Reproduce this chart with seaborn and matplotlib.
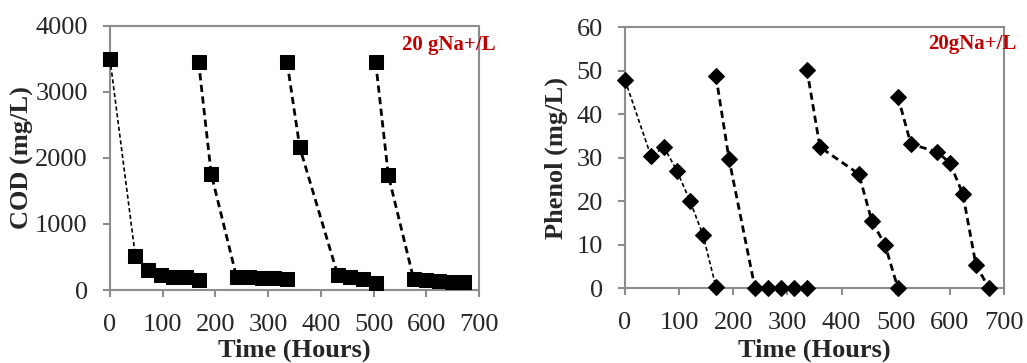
import numpy as np
import pandas as pd
import seaborn as sns
from matplotlib import pyplot as plt

# COD data (mg/L) per feeding cycle
cod_time_1 = [0, 48, 72, 96, 120, 144, 168]
cod_vals_1 = [3500, 520, 310, 230, 200, 190, 150]
cod_time_2 = [168, 192, 240, 264, 288, 312, 336]
cod_vals_2 = [3460, 1760, 200, 190, 185, 175, 160]
cod_time_3 = [336, 360, 432, 456, 480, 504]
cod_vals_3 = [3450, 2160, 230, 200, 170, 110]
cod_time_4 = [504, 528, 576, 600, 624, 648, 672]
cod_vals_4 = [3450, 1740, 165, 155, 140, 125, 115]

# Phenol data (mg/L) per feeding cycle
phe_time_1 = [0, 48, 72, 96, 120, 144, 168]
phe_vals_1 = [47.8, 30.3, 32.4, 26.9, 20.0, 12.2, 0.2]
phe_time_2 = [168, 192, 240, 264, 288, 312, 336]
phe_vals_2 = [48.7, 29.7, 0, 0, 0, 0, 0]
phe_time_3 = [336, 360, 432, 456, 480, 504]
phe_vals_3 = [50.2, 32.4, 26.2, 15.3, 10.0, 0]
phe_time_4 = [504, 528, 576, 600, 624, 648, 672]
phe_vals_4 = [44.0, 33.1, 31.3, 28.8, 21.6, 5.4, 0]

x_ticks = [0, 100, 200, 300, 400, 500, 600, 700]
cod_ticks = [0, 1000, 2000, 3000, 4000]
phe_ticks = [0, 10, 20, 30, 40, 50, 60]

sns.set_style("white")
plt.rcParams["font.family"] = ["Liberation Serif", "DejaVu Serif"]

fig = plt.figure(figsize=(10.27, 3.63), dpi=100)
ax1 = fig.add_axes([0.1071, 0.2011, 0.3593, 0.7273])
ax2 = fig.add_axes([0.6086, 0.2066, 0.3690, 0.7190])

grey = "#8c8c8c"


def draw_cycles(ax, cycles, marker, msize):
    for i, (t, v) in enumerate(cycles):
        df = pd.DataFrame({"t": t, "v": v})
        if i == 0:
            lw, dash = 1.2, (2.5, 1.6)
        else:
            lw, dash = 2.0, (2.6, 1.6)
        sns.lineplot(data=df, x="t", y="v", ax=ax, sort=False, estimator=None,
                     color="black", linewidth=lw, dashes=False,
                     marker=marker, markersize=msize, markeredgecolor="black",
                     markerfacecolor="black", clip_on=False, zorder=3)
        ax.lines[-1].set_dashes(dash)


def style_axis(ax, yticks, ylabel, note):
    ax.set_xlim(0, 700)
    ax.set_ylim(yticks[0], yticks[-1])
    ax.set_xticks(x_ticks)
    ax.set_yticks(yticks)
    for s in ax.spines.values():
        s.set_color(grey)
        s.set_linewidth(1.5)
    ax.tick_params(axis="both", direction="out", length=5, width=1.5, color=grey,
                   labelsize=19, left=True, bottom=True)
    ax.tick_params(axis="x", pad=12)
    ax.tick_params(axis="y", pad=11)
    ax.set_xlabel("Time (Hours)", fontsize=19, fontweight="bold", labelpad=0)
    ax.set_ylabel(ylabel, fontsize=19, fontweight="bold")
    ax.text(note[0], note[1], note[2], transform=ax.transAxes, ha="right", va="center",
            fontsize=15, fontweight="bold", color="#c00000", clip_on=False)


draw_cycles(ax1, [(cod_time_1, cod_vals_1), (cod_time_2, cod_vals_2),
                  (cod_time_3, cod_vals_3), (cod_time_4, cod_vals_4)], "s", 10)
draw_cycles(ax2, [(phe_time_1, phe_vals_1), (phe_time_2, phe_vals_2),
                  (phe_time_3, phe_vals_3), (phe_time_4, phe_vals_4)], "D", 8.5)

style_axis(ax1, cod_ticks, "COD (mg/L)", (1.046, 0.928, "20 gNa+/L"))
style_axis(ax2, phe_ticks, "Phenol (mg/L)", (1.034, 0.935, "20gNa+/L"))

ax1.yaxis.set_label_coords(-0.205, 0.5)
ax2.yaxis.set_label_coords(-0.151, 0.5)
ax1.xaxis.set_label_coords(0.5, -0.185)
ax2.xaxis.set_label_coords(0.5, -0.195)

fig.savefig("out.png", dpi=100)
